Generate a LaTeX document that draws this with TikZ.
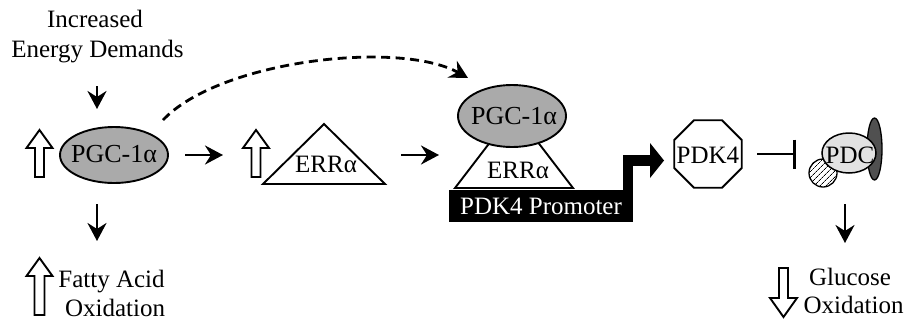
\documentclass[tikz,border=0pt]{standalone}
\usepackage{fontspec}
\setmainfont{Liberation Serif}
\usetikzlibrary{arrows.meta,shapes.geometric,patterns.meta}
\definecolor{pgcgray}{RGB}{170,170,170}
\definecolor{pdclight}{RGB}{226,226,226}
\definecolor{pdcdark}{RGB}{80,80,80}
\begin{document}
\begin{tikzpicture}[x=1pt,y=-1pt,
  every node/.style={font=\fontsize{25}{29}\selectfont, inner sep=0pt, outer sep=0pt},
  lbl/.style={anchor=base},
  tip/.style={-{Stealth[length=18pt,width=19pt,inset=6pt]}},
  arr/.style={line width=2.6pt,tip},
  hollow/.style={draw=black,fill=white,line width=1.9pt,line join=miter},
  outl/.style={draw=black,line width=1.9pt},
]
\useasboundingbox (0,0) rectangle (906,322);

% ---- left column
\node[lbl] (inc1) at (95,27.5) {Increased};
\node[lbl] (inc2) at (97.5,57) {Energy Demands};
\node[outl, ellipse, fill=pgcgray, minimum width=108pt, minimum height=56pt] (pgc1) at (114,155) {};
\node (pgc1t) at (114,154.5) {\fontsize{26}{29}\selectfont PGC-1α};
\node[lbl] (fa1) at (111.5,287) {Fatty Acid};
\node[lbl] (fa2) at (115,316) {Oxidation};

% hollow arrows
\draw[hollow, shift={(39.5,0)}] (-4.5,177) -- (-4.5,148) -- (-13,148) -- (0,130) -- (13,148) -- (4.5,148) -- (4.5,177) -- cycle;
\draw[hollow, shift={(256,0)}] (-4.5,177) -- (-4.5,148) -- (-13,148) -- (0,130) -- (13,148) -- (4.5,148) -- (4.5,177) -- cycle;
\draw[hollow, shift={(39.5,0)}] (-5,315) -- (-5,276) -- (-13,276) -- (0,258) -- (13,276) -- (5,276) -- (5,315) -- cycle;
\draw[hollow, shift={(783.5,0)}] (-4.5,268) -- (-4.5,298) -- (-13.5,298) -- (0,317) -- (13.5,298) -- (4.5,298) -- (4.5,268) -- cycle;

% connectors, left
\coordinate (a1s) at (97,86);  \coordinate (a1e) at (97,109);
\coordinate (a2s) at (97,204); \coordinate (a2e) at (97,241);
\coordinate (a3s) at (185,155); \coordinate (a3e) at (223,155);
\coordinate (a4s) at (401,155); \coordinate (a4e) at (439,155);
\coordinate (a5s) at (845,204); \coordinate (a5e) at (845,243);
\draw[arr] (a1s) -- (a1e);
\draw[arr] (a2s) -- (a2e);
\draw[arr] (a3s) -- (a3e);
\draw[arr] (a4s) -- (a4e);
\draw[arr] (a5s) -- (a5e);

% ---- ERR alpha triangle
\coordinate (t1a) at (263,184); \coordinate (t1b) at (324,124); \coordinate (t1c) at (385,184);
\draw[outl, line join=miter] (t1a) -- (t1b) -- (t1c) -- cycle;
\node[lbl] (err1) at (326,172) {ERRα};

% ---- complex on promoter
\coordinate (t2a) at (455,188); \coordinate (t2b) at (514,111); \coordinate (t2c) at (573,188);
\draw[outl, fill=white, line join=miter] (t2a) -- (t2b) -- (t2c) -- cycle;
\node[outl, ellipse, fill=pgcgray, minimum width=108pt, minimum height=62pt] (pgc2) at (512,116) {};
\node (pgc2t) at (514,116.5) {\fontsize{26}{29}\selectfont PGC-1α};
\node[lbl] (err2) at (518,178) {ERRα};

% dashed arrow
\coordinate (d1) at (163,120); \coordinate (d2) at (468,78);
\draw[line width=2.8pt, dash pattern=on 9pt off 5.5pt, tip]
  (d1) .. controls (220,60) and (400,40) .. (d2);

% bent promoter arrow
\coordinate (b1) at (628,200); \coordinate (b2) at (651,160.5);
\draw[line width=10.5pt] (b1) |- (b2);
\fill (650,143) -- (664,160.5) -- (650,178) -- cycle;
\node[fill=black, text=white, minimum width=184pt, minimum height=32pt, anchor=north west] (prom) at (449,190) {PDK4 Promoter};

% ---- PDK4
\node[outl, regular polygon, regular polygon sides=8, minimum size=73pt] (pdk4) at (708,154) {};
\node (pdk4t) at (708,155) {PDK4};
\coordinate (i1) at (757,154); \coordinate (i2) at (796,154);
\draw[line width=2.6pt, -{Bar[width=29pt,line width=2.6pt]}] (i1) -- (i2);

% ---- PDC
\node[draw=black, line width=1.3pt, ellipse, fill=pdcdark, minimum width=15pt, minimum height=62pt] (pdcd) at (874.5,149) {};
\node[draw=black, line width=1.3pt, circle, minimum size=28pt, preaction={fill=white},
      pattern={Lines[angle=45,distance=4pt,line width=0.8pt]}] (pdch) at (823,173) {};
\node[draw=black, line width=1.5pt, ellipse, fill=pdclight, minimum width=54pt, minimum height=40pt] (pdc) at (849,153) {};
\node (pdct) at (850,155) {PDC};

\node[lbl] (go1) at (850,285) {Glucose};
\node[lbl] (go2) at (853.5,313) {Oxidation};
\end{tikzpicture}
\end{document}
